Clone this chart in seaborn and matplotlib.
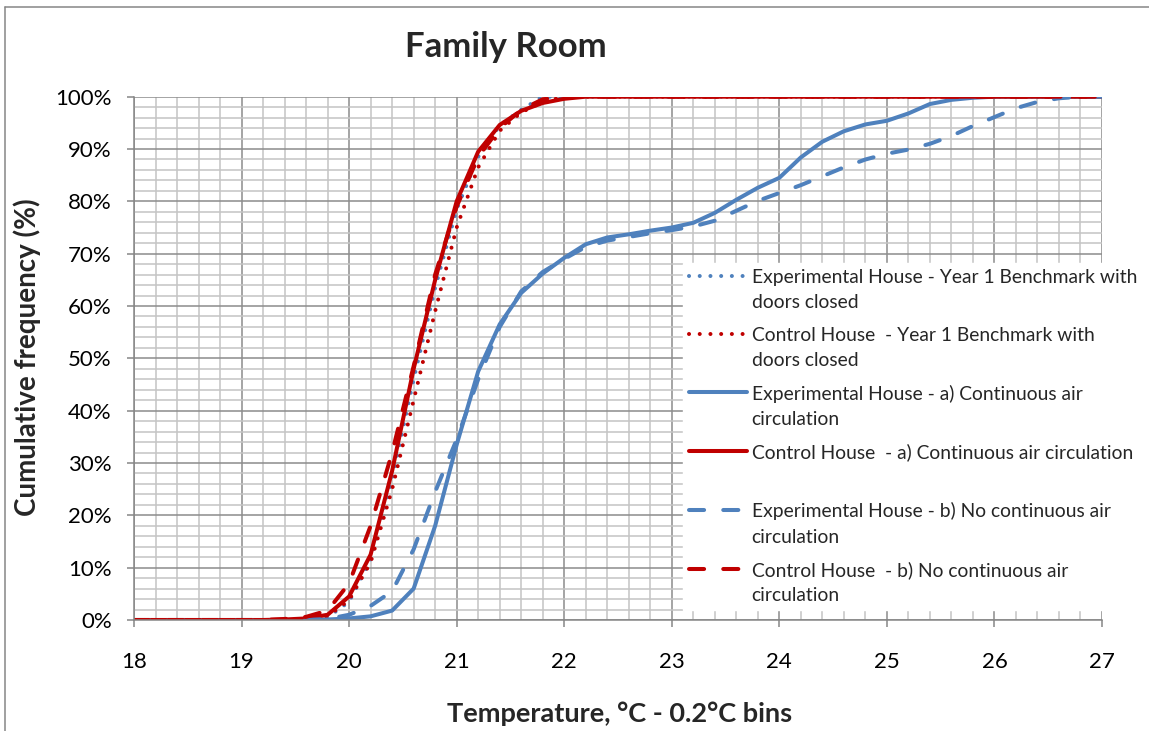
import numpy as np
import pandas as pd
import matplotlib
matplotlib.use("Agg")
import matplotlib.pyplot as plt
import seaborn as sns
from matplotlib.ticker import MultipleLocator, PercentFormatter
from matplotlib.legend_handler import HandlerLine2D
from matplotlib.lines import Line2D

# 0.2 degC temperature bins
temps = [18.0, 18.2, 18.4, 18.6, 18.8, 19.0, 19.2, 19.4, 19.6, 19.8,
         20.0, 20.2, 20.4, 20.6, 20.8, 21.0, 21.2, 21.4, 21.6, 21.8,
         22.0, 22.2, 22.4, 22.6, 22.8, 23.0, 23.2, 23.4, 23.6, 23.8,
         24.0, 24.2, 24.4, 24.6, 24.8, 25.0, 25.2, 25.4, 25.6, 25.8,
         26.0, 26.2, 26.4, 26.6, 26.8, 27.0]

# cumulative frequency (%) per bin
exp_year1 = [0, 0, 0, 0, 0, 0, 0, 0, 0, 0.5,
             3.5, 11.5, 27, 46, 63.5, 78.5, 88.5, 94.5, 97.5, 100,
             100, 100, 100, 100, 100, 100, 100, 100, 100, 100,
             100, 100, 100, 100, 100, 100, 100, 100, 100, 100,
             100, 100, 100, 100, 100, 100]
ctrl_year1 = [0, 0, 0, 0, 0, 0, 0, 0, 0, 0.7,
              3.8, 11, 25, 42, 59, 75, 86.5, 93.5, 97, 99,
              100, 100, 100, 100, 100, 100, 100, 100, 100, 100,
              100, 100, 100, 100, 100, 100, 100, 100, 100, 100,
              100, 100, 100, 100, 100, 100]
exp_a = [0, 0, 0, 0, 0, 0, 0, 0, 0, 0.1,
         0.3, 0.7, 1.8, 6, 18, 33.5, 47.5, 56.5, 62.5, 66.2,
         69.2, 71.8, 73.1, 73.7, 74.4, 75, 75.9, 77.8, 80.3, 82.6,
         84.5, 88.4, 91.4, 93.4, 94.7, 95.4, 96.8, 98.6, 99.4, 99.8,
         100, 100, 100, 100, 100, 100]
ctrl_a = [0, 0, 0, 0, 0, 0, 0, 0.1, 0.3, 1.0,
          4.5, 12.5, 28.5, 48, 65, 80, 89.5, 94.6, 97.3, 98.8,
          99.6, 100, 100, 100, 100, 100, 100, 100, 100, 100,
          100, 100, 100, 100, 100, 100, 100, 100, 100, 100,
          100, 100, 100, 100, 100, 100]
exp_b = [0, 0, 0, 0, 0, 0, 0, 0, 0, 0.2,
         1, 2.7, 5.5, 13.5, 24.5, 34.5, 46, 56, 62.8, 66.5,
         69, 71.3, 72.5, 73.2, 73.9, 74.5, 75.2, 76.3, 78.2, 80.1,
         81.6, 83.1, 84.8, 86.5, 88, 89.1, 89.9, 91, 92.5, 94.4,
         96.1, 97.8, 99, 99.7, 100, 100]
ctrl_b = [0, 0, 0, 0, 0, 0, 0, 0.2, 0.6, 1.8,
          7, 18, 32, 48.5, 66, 79, 88.5, 94, 97.5, 99.5,
          100, 100, 100, 100, 100, 100, 100, 100, 100, 100,
          100, 100, 100, 100, 100, 100, 100, 100, 100, 100,
          100, 100, 100, 100, 100, 100]

labels = [
    "Experimental House - Year 1 Benchmark with\ndoors closed",
    "Control House  - Year 1 Benchmark with\ndoors closed",
    "Experimental House - a) Continuous air\ncirculation",
    "Control House  - a) Continuous air circulation\n",
    "Experimental House - b) No continuous air\ncirculation",
    "Control House  - b) No continuous air\ncirculation",
]
series = [exp_year1, ctrl_year1, exp_a, ctrl_a, exp_b, ctrl_b]

BLUE = "#4F81BD"
RED = "#C00000"
colors = [BLUE, RED, BLUE, RED, BLUE, RED]
dotted = dict(linestyle=(0, (0.01, 2.65)), dash_capstyle="round")
solid = dict(linestyle="-")
dashed = dict(linestyle=(0, (3.75, 4.75)), dash_capstyle="round")
line_styles = [dotted, dotted, solid, solid, dashed, dashed]


class FirstLineHandler(HandlerLine2D):
    # put the legend sample beside the first text line, not the last
    def __init__(self, lift, **kw):
        super().__init__(**kw)
        self.lift = lift

    def create_artists(self, legend, orig_handle, xdescent, ydescent,
                       width, height, fontsize, trans):
        artists = super().create_artists(legend, orig_handle, xdescent, ydescent,
                                         width, height, fontsize, trans)
        for a in artists:
            a.set_ydata(np.asarray(a.get_ydata()) + self.lift)
        return artists


sns.set_theme(style="white")
plt.rcParams["font.family"] = ["Lato", "DejaVu Sans"]

W, H = 1149, 731
fig = plt.figure(figsize=(W / 100, H / 100), dpi=100)
ax = fig.add_axes([134 / W, 1 - 620 / H, (1102 - 134) / W, (620 - 96.7) / H])

for vals, lab, col, st in zip(series, labels, colors, line_styles):
    df = pd.DataFrame({"temp": temps, "freq": vals})
    sns.lineplot(data=df, x="temp", y="freq", ax=ax, color=col, lw=2.9,
                 label=lab, errorbar=None, **st)

ax.set_xlim(18, 27)
ax.set_ylim(0, 100)
ax.xaxis.set_major_locator(MultipleLocator(1))
ax.xaxis.set_minor_locator(MultipleLocator(0.2))
ax.yaxis.set_major_locator(MultipleLocator(10))
ax.yaxis.set_minor_locator(MultipleLocator(2))
ax.yaxis.set_major_formatter(PercentFormatter(100, decimals=0))
ax.set_axisbelow(True)
ax.grid(which="major", color="#8C8C8C", lw=1.1)
ax.grid(which="minor", color="#C4C4C4", lw=1.1)
for s in ["top", "right"]:
    ax.spines[s].set_visible(False)
for s in ["left", "bottom"]:
    ax.spines[s].set_color("#868686")
    ax.spines[s].set_linewidth(1.1)
ax.tick_params(which="major", direction="out", length=5, width=1.1, color="#868686",
               labelsize=16, labelcolor="black", left=True, bottom=True)
ax.tick_params(axis="x", pad=18)
ax.tick_params(axis="y", pad=11)
ax.tick_params(which="minor", length=0)
ax.set_xlabel("")
ax.set_ylabel("")

handles, labs = ax.get_legend_handles_labels()
leg = ax.legend(handles, labs, loc="upper left",
                bbox_to_anchor=(683 / W, 1 - 263 / H), bbox_transform=fig.transFigure,
                fontsize=13.9, frameon=True, facecolor="white", edgecolor="white",
                framealpha=1, fancybox=False, borderaxespad=0, borderpad=0.3,
                handlelength=3.0, handletextpad=0.25, labelspacing=0.8,
                handler_map={Line2D: FirstLineHandler(lift=10.3)})
for t in leg.get_texts():
    t.set_linespacing(1.6)

fig.text(506 / W, 1 - 47 / H, "Family Room", ha="center", va="center",
         fontsize=25, fontweight="bold")
fig.text(27 / W, 1 - 357 / H, "Cumulative frequency (%)", ha="center", va="center",
         rotation=90, fontsize=20, fontweight="bold")
fig.text(620 / W, 1 - 714 / H, "Temperature, °C - 0.2°C bins", ha="center", va="center",
         fontsize=19.5, fontweight="bold")

# outer chart border (right and bottom edges fall outside the picture)
fig.add_artist(Line2D([5 / W, 5 / W], [0, 1 - 7 / H], transform=fig.transFigure,
                      color="#868686", lw=1.1))
fig.add_artist(Line2D([5 / W, 1], [1 - 7 / H, 1 - 7 / H], transform=fig.transFigure,
                      color="#868686", lw=1.1))

fig.savefig("out.png", dpi=100)
